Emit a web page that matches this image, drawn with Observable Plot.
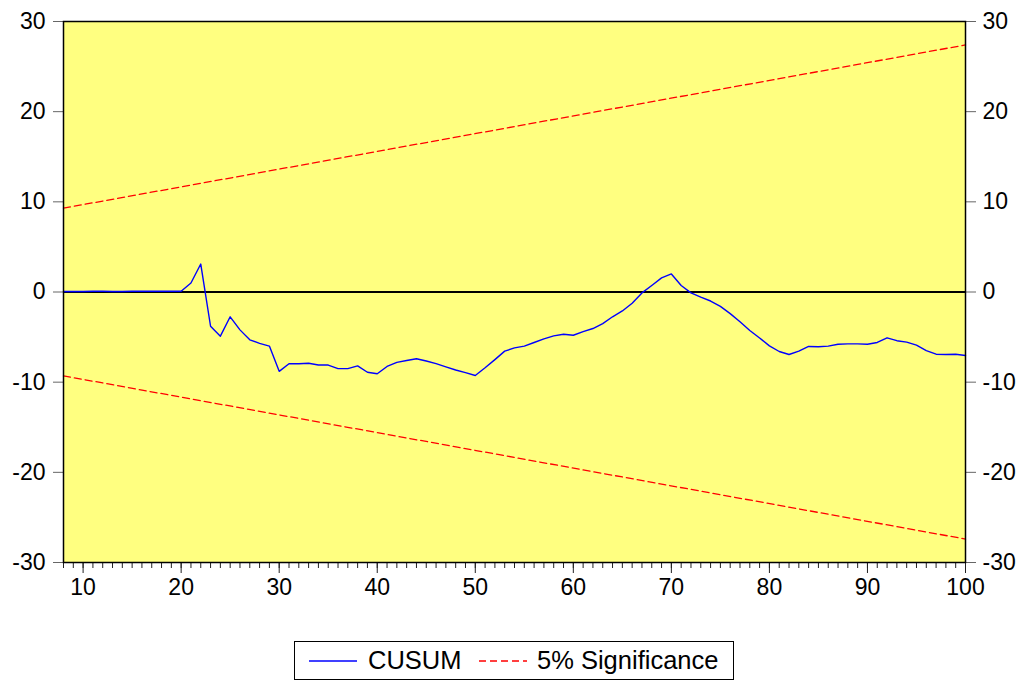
<!DOCTYPE html>
<html>
<head>
<meta charset="utf-8">
<script src="https://cdn.jsdelivr.net/npm/d3@7"></script>
<script src="https://cdn.jsdelivr.net/npm/@observablehq/plot@0.6"></script>
<style>
  html, body { margin: 0; padding: 0; background: #fff; width: 1025px; height: 681px; overflow: hidden; }
  #wrap { position: relative; width: 1025px; height: 681px; font-family: "Liberation Sans", Arial, sans-serif; }
  #legend { position: absolute; left: 294px; top: 641px; width: 438px; height: 37px; border: 1px solid #000; box-sizing: content-box; }
  #legend svg.sw { position: absolute; display: block; }
  #legend .lab { position: absolute; top: 4px; font-size: 25.5px; line-height: 28px; color: #000; white-space: nowrap; }
</style>
</head>
<body>
<div id="wrap"></div>
<script>
// observation index
const obs = [8,9,10,11,12,13,14,15,16,17,18,19,20,21,22,23,24,25,26,27,28,29,30,31,32,33,34,35,36,37,38,39,40,41,42,43,44,45,46,47,48,49,50,51,52,53,54,55,56,57,58,59,60,61,62,63,64,65,66,67,68,69,70,71,72,73,74,75,76,77,78,79,80,81,82,83,84,85,86,87,88,89,90,91,92,93,94,95,96,97,98,99,100];
// CUSUM values
const cusum = [0.05,0.05,0.05,0.08,0.08,0.05,0.05,0.08,0.08,0.08,0.08,0.08,0.08,1.0,3.1,-3.8,-4.9,-2.75,-4.2,-5.3,-5.7,-6.0,-8.8,-7.95,-7.95,-7.9,-8.1,-8.1,-8.5,-8.5,-8.2,-8.9,-9.07,-8.26,-7.8,-7.6,-7.4,-7.65,-7.95,-8.3,-8.65,-8.95,-9.26,-8.4,-7.5,-6.56,-6.2,-6.0,-5.6,-5.2,-4.86,-4.68,-4.8,-4.4,-4.05,-3.5,-2.75,-2.1,-1.24,-0.1,0.72,1.57,2.0,0.72,-0.1,-0.57,-1.0,-1.6,-2.4,-3.3,-4.27,-5.1,-5.97,-6.6,-6.93,-6.56,-6.04,-6.08,-6.0,-5.8,-5.75,-5.75,-5.8,-5.6,-5.08,-5.4,-5.56,-5.9,-6.5,-6.9,-6.93,-6.9,-7.04];
// 5% significance bounds (straight lines, endpoints)
const sigObs = [8, 100];
const sigUpper = [9.3, 27.4];
const sigLower = [-9.3, -27.4];
// ticks
const yTicks = [-30, -20, -10, 0, 10, 20, 30];
const xMajor = [10, 20, 30, 40, 50, 60, 70, 80, 90, 100];
const xMinor = [8,9,10,11,12,13,14,15,16,17,18,19,20,21,22,23,24,25,26,27,28,29,30,31,32,33,34,35,36,37,38,39,40,41,42,43,44,45,46,47,48,49,50,51,52,53,54,55,56,57,58,59,60,61,62,63,64,65,66,67,68,69,70,71,72,73,74,75,76,77,78,79,80,81,82,83,84,85,86,87,88,89,90,91,92,93,94,95,96,97,98,99,100];

const cusumData = obs.map((x, i) => ({x, y: cusum[i]}));
const upperData = sigObs.map((x, i) => ({x, y: sigUpper[i]}));
const lowerData = sigObs.map((x, i) => ({x, y: sigLower[i]}));

const fmt = d => String(d);
const font = "Liberation Sans, Arial, sans-serif";

const chart = Plot.plot({
  width: 1025,
  height: 600,
  marginLeft: 63,
  marginRight: 60,
  marginTop: 21,
  marginBottom: 38,
  style: { fontFamily: font, fontSize: "23px", background: "transparent", overflow: "visible" },
  x: { domain: [8, 100] },
  y: { domain: [-30, 30] },
  marks: [
    Plot.frame({ fill: "#ffff80", stroke: null }),
    Plot.ruleY([0], { stroke: "#000", strokeWidth: 2 }),
    Plot.line(upperData, { x: "x", y: "y", stroke: "#ff0000", strokeWidth: 1.3, strokeDasharray: "7,4" }),
    Plot.line(lowerData, { x: "x", y: "y", stroke: "#ff0000", strokeWidth: 1.3, strokeDasharray: "7,4" }),
    Plot.line(cusumData, { x: "x", y: "y", stroke: "#0000ff", strokeWidth: 1.4 }),
    Plot.axisY({ ticks: yTicks, tickFormat: fmt, tickSize: 10, tickPadding: 8, stroke: "#666", fill: "#000", fontSize: 23, label: null }),
    Plot.axisY({ anchor: "right", ticks: yTicks, tickFormat: fmt, tickSize: 10, tickPadding: 7, stroke: "#666", fill: "#000", fontSize: 23, label: null }),
    Plot.axisX({ ticks: xMinor, text: null, tickSize: 6, stroke: "#222", label: null }),
    Plot.axisX({ ticks: xMajor, tickFormat: fmt, tickSize: 11, tickPadding: 5, stroke: "#222", fill: "#000", fontSize: 23, label: null }),
    Plot.frame({ stroke: "#000", strokeWidth: 1.5 })
  ]
});

const wrap = document.getElementById("wrap");
wrap.appendChild(chart);

const legend = document.createElement("div");
legend.id = "legend";
legend.innerHTML = `
  <svg class="sw" style="left:14px;top:17px" width="48" height="4"><line x1="0" y1="2" x2="48" y2="2" stroke="#0000ff" stroke-width="1.4"/></svg>
  <span class="lab" style="left:73px">CUSUM</span>
  <svg class="sw" style="left:184px;top:17px" width="48" height="4"><line x1="0" y1="2" x2="48" y2="2" stroke="#ff0000" stroke-width="1.3" stroke-dasharray="7,4"/></svg>
  <span class="lab" style="left:242px">5% Significance</span>`;
wrap.appendChild(legend);
</script>
</body>
</html>
